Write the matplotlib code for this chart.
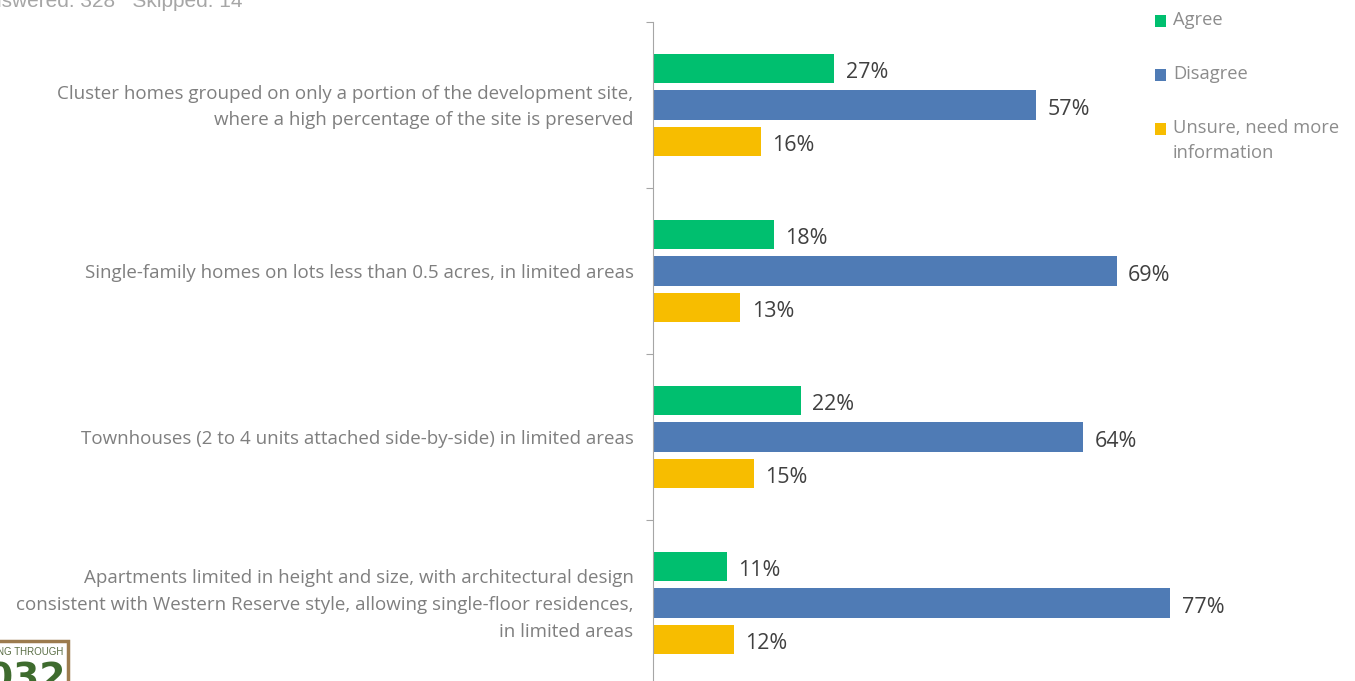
import matplotlib.pyplot as plt
from matplotlib.patches import Rectangle
import numpy as np

categories = [
    "Cluster homes grouped on only a portion of the development site,\nwhere a high percentage of the site is preserved",
    "Single-family homes on lots less than 0.5 acres, in limited areas",
    "Townhouses (2 to 4 units attached side-by-side) in limited areas",
    "Apartments limited in height and size, with architectural design\nconsistent with Western Reserve style, allowing single-floor residences,\nin limited areas",
]
series_names = ["Agree", "Disagree", "Unsure, need more\ninformation"]
agree = [27, 18, 22, 11]
disagree = [57, 69, 64, 77]
unsure = [16, 13, 15, 12]
colors = ["#00BF6F", "#4F7BB5", "#F7BD00"]

plt.rcParams['font.family'] = ['Open Sans', 'DejaVu Sans']

fig = plt.figure(figsize=(13.55, 6.81), dpi=100)
W, H = 1355, 681
ax = fig.add_axes([653 / W, 1 - 686 / H, 672 / W, 664 / H])

centers = np.arange(len(categories)) + 0.5
offsets = [-0.22, 0.0, 0.22]
bar_h = 0.175
for vals, off, c in zip([agree, disagree, unsure], offsets, colors):
    bars = ax.barh(centers + off, vals, height=bar_h, color=c)
    for b, v in zip(bars, vals):
        ax.text(v + 1.7, b.get_y() + b.get_height() / 2 + 0.01, f"{v}%",
                va="center_baseline", ha="left", fontsize=15.5, color="#404040")

ax.set_xlim(0, 100)
ax.set_ylim(len(categories), 0)
ax.set_yticks(np.arange(len(categories) + 1))
ax.set_yticklabels([])
# label rows sit a touch below the group centre, as in the source
ax.set_yticks(centers + 0.012, minor=True)
ax.set_yticklabels(categories, minor=True, fontsize=13.5, color="#7F7F7F",
                   ha="right", va="center", linespacing=1.62)
ax.tick_params(axis="y", which="minor", length=0, pad=14)
ax.tick_params(axis="y", which="major", length=5, color="#A6A6A6")
ax.set_xticks([])
for s in ["top", "right", "bottom"]:
    ax.spines[s].set_visible(False)
ax.spines["left"].set_color("#A6A6A6")

# legend, drawn by hand to match the stacked layout
leg_y = [20, 74, 128]
for name, c, y in zip(series_names, colors, leg_y):
    fig.patches.append(Rectangle((1155 / W, 1 - (y + 6.5) / H), 11 / W, 11 / H,
                                 transform=fig.transFigure, facecolor=c,
                                 edgecolor="none"))
    n = name.count("\n")
    fig.text(1173 / W, 1 - (y + n * 12.5) / H, name, fontsize=13.2,
             color="#8C8C8C", ha="left", va="center", linespacing=1.5)

fig.text(242 / W, 1 - 7 / H, "Answered: 328   Skipped: 14", fontsize=15,
         color="#A6A6A6", ha="right", va="baseline", family="Liberation Sans")

# logo fragment at bottom left
fig.patches.append(Rectangle((-10 / W, -20 / H), 78 / W, 60 / H,
                             transform=fig.transFigure, facecolor="white",
                             edgecolor="#9C7B4E", linewidth=2.5))
fig.text(63 / W, 1 - 652 / H, "LIVING THROUGH", fontsize=7, color="#5A6E45",
         ha="right", va="center", family="Liberation Sans")
fig.text(65 / W, 1 - 680 / H, "2032", fontsize=27, fontweight="bold",
         color="#3E6B2E", ha="right", va="center", family="DejaVu Sans")

fig.savefig("out.png", dpi=100)
